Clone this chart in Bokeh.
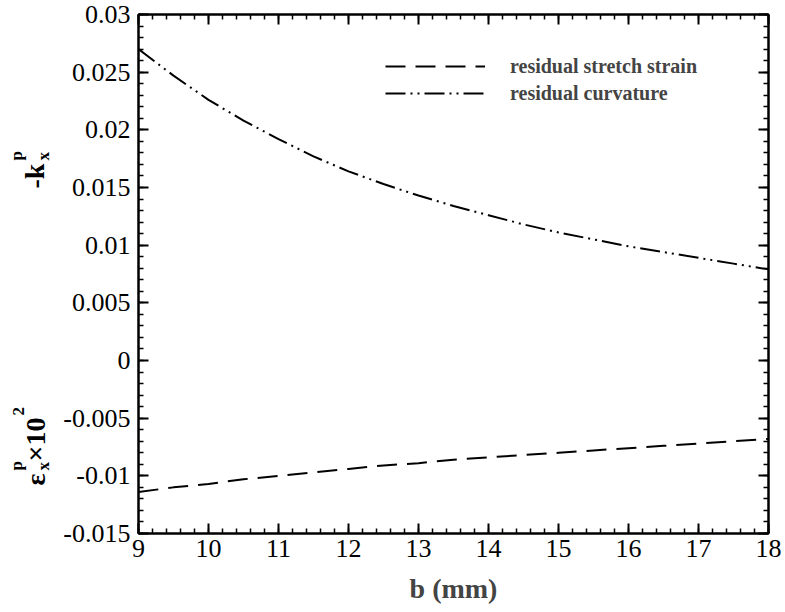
import numpy as np
from bokeh.plotting import figure
from bokeh.layouts import row
from bokeh.models import (Range1d, FixedTicker, LinearAxis, Label, Legend, LegendItem,
                          CustomJSTickFormatter)
from bokeh.embed import file_html
from bokeh.resources import INLINE

# ---- data ----
b_mm = [9, 9.5, 10, 10.5, 11, 11.5, 12, 12.5, 13, 13.5, 14, 14.5, 15, 15.5, 16, 16.5, 17, 17.5, 18]
curvature = [0.0270, 0.0247, 0.0226, 0.0208, 0.0192, 0.0177, 0.0164, 0.0153, 0.0143, 0.0134,
             0.0126, 0.0118, 0.0111, 0.0105, 0.0099, 0.0094, 0.0089, 0.0084, 0.0079]
stretch = [-0.0114, -0.0110, -0.0107, -0.0103, -0.0100, -0.0097, -0.0094, -0.0091, -0.0089, -0.0086,
           -0.0084, -0.0082, -0.0080, -0.0078, -0.0076, -0.0074, -0.0072, -0.0070, -0.0068]

x_ticks = [9, 10, 11, 12, 13, 14, 15, 16, 17, 18]
x_tick_labels = ["9", "10", "11", "12", "13", "14", "15", "16", "17", "18"]
y_ticks = [-0.015, -0.01, -0.005, 0.0, 0.005, 0.01, 0.015, 0.02, 0.025, 0.03]
y_tick_labels = ["-0.015", "-0.01", "-0.005", "0", "0.005", "0.01", "0.015", "0.02", "0.025", "0.03"]

series_names = ["residual stretch strain", "residual curvature"]

FONT = "Liberation Serif"
H = 609          # figure height
LW = 60          # width of the strip that carries the rotated y-axis labels

# ---- strip with the rotated y-axis labels ----
lf = figure(width=LW, height=H, output_backend="svg", toolbar_location=None,
            x_range=Range1d(0, LW), y_range=Range1d(0, H),
            x_axis_location=None, y_axis_location=None,
            min_border=0)
lf.grid.visible = False
lf.outline_line_color = None
lf.background_fill_color = "white"
lf.border_fill_color = "white"

def lab(text, x, y, size):
    lf.add_layout(Label(x=x, y=y, x_units="screen", y_units="screen", text=text,
                        angle=np.pi / 2, text_align="left", text_baseline="alphabetic",
                        text_font=FONT, text_font_style="bold", text_font_size=size,
                        text_color="black"))

# -k_x^p
lab("-k", 34, 345, "28px")
lab("p", 16, 373, "17px")
lab("x", 43, 373, "17px")
# eps_x^p x 10^2
lab("\u03b5", 35, 48, "28px")
lab("p", 16, 63, "17px")
lab("x", 43, 63, "17px")
lab("\u00d710", 35, 72, "28px")
lab("2", 18, 118, "17px")

# ---- main plot ----
p = figure(width=782 - LW, height=H, output_backend="svg", toolbar_location=None,
           x_range=Range1d(9, 18), y_range=Range1d(-0.015, 0.03),
           min_border_left=77, min_border_right=14, min_border_top=14, min_border_bottom=76)
p.grid.visible = False
p.outline_line_color = "black"
p.outline_line_width = 2
p.background_fill_color = "white"
p.border_fill_color = "white"

x_minor = list(np.round(np.arange(9, 18.0001, 0.2), 4))
y_minor = list(np.round(np.arange(-0.015, 0.03001, 0.001), 5))
xt = FixedTicker(ticks=x_ticks, minor_ticks=x_minor)
yt = FixedTicker(ticks=y_ticks, minor_ticks=y_minor)

def style_axis(ax, ticker, show_labels):
    ax.ticker = ticker
    ax.axis_line_width = 2
    ax.axis_line_color = "black"
    ax.major_tick_in = 10
    ax.major_tick_out = 0
    ax.minor_tick_in = 5
    ax.minor_tick_out = 0
    ax.major_tick_line_width = 2
    ax.minor_tick_line_width = 1.5
    ax.major_tick_line_color = "black"
    ax.minor_tick_line_color = "black"
    if show_labels:
        ax.major_label_text_font = FONT
        ax.major_label_text_font_size = "26px"
        ax.major_label_text_color = "black"
    else:
        ax.formatter = CustomJSTickFormatter(code="return ''")
        ax.major_label_text_font_size = "1px"
        ax.major_label_standoff = 0

xaxis = p.xaxis[0]
style_axis(xaxis, xt, True)
xaxis.major_label_overrides = {t: s for t, s in zip(x_ticks, x_tick_labels)}
xaxis.major_label_standoff = 6
xaxis.axis_label = "b (mm)"
xaxis.axis_label_text_font = FONT
xaxis.axis_label_text_font_style = "bold"
xaxis.axis_label_text_font_size = "28px"
xaxis.axis_label_standoff = 13

yaxis = p.yaxis[0]
style_axis(yaxis, yt, True)
yaxis.major_label_overrides = {t: s for t, s in zip(y_ticks, y_tick_labels)}
yaxis.major_label_standoff = 8

top_ax = LinearAxis()
style_axis(top_ax, xt, False)
p.add_layout(top_ax, "above")
right_ax = LinearAxis()
style_axis(right_ax, yt, False)
p.add_layout(right_ax, "right")

r_stretch = p.line(b_mm, stretch, line_color="black", line_width=2, line_dash="20 10")
r_curv = p.line(b_mm, curvature, line_color="black", line_width=2, line_dash="20 5 2 5 2 5")

legend = Legend(items=[LegendItem(label=series_names[0], renderers=[r_stretch]),
                       LegendItem(label=series_names[1], renderers=[r_curv])],
                location=(247, 428), glyph_width=100, glyph_height=24, label_height=24,
                label_standoff=25, spacing=3, padding=0, margin=0,
                border_line_color=None, background_fill_alpha=0,
                label_text_font=FONT, label_text_font_style="bold",
                label_text_font_size="20px")
p.add_layout(legend)

layout = row(lf, p, spacing=0)
open("out.html", "w").write(file_html(layout, INLINE))
